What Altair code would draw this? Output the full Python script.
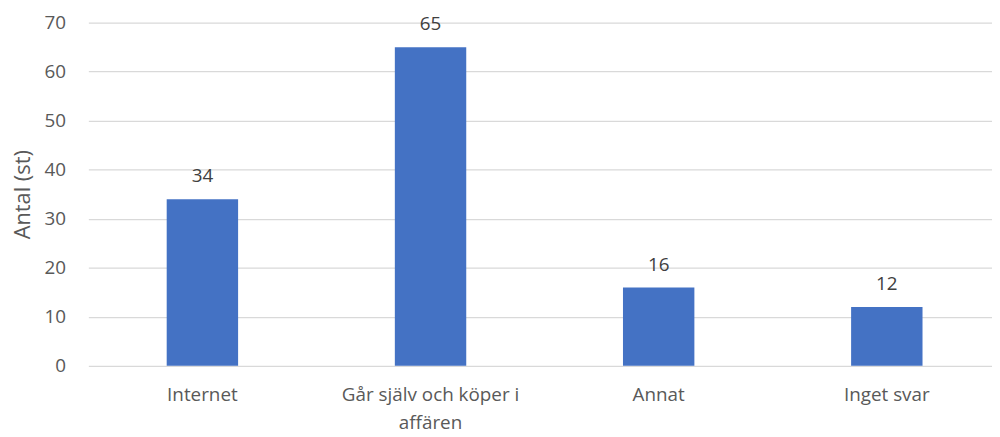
import altair as alt
import pandas as pd

categories = ["Internet", "Går själv och köper i affären", "Annat", "Inget svar"]
values = [34, 65, 16, 12]
y_ticks = [0, 10, 20, 30, 40, 50, 60, 70]

df = pd.DataFrame({"kategori": categories, "antal": values})

FONT = "Open Sans"
GREY = "#595959"

x_enc = alt.X(
    "kategori:N",
    sort=categories,
    title=None,
    scale=alt.Scale(paddingInner=0.687, paddingOuter=0.324, align=0.53, round=False),
    axis=alt.Axis(
        labelAngle=0,
        labelFont=FONT,
        labelFontSize=19,
        labelColor=GREY,
        labelPadding=20,
        labelLineHeight=28,
        labelExpr="datum.value == 'Går själv och köper i affären' ? ['Går själv och köper i', 'affären'] : datum.value",
        ticks=False,
        domain=False,
        grid=False,
    ),
)

y_enc = alt.Y(
    "antal:Q",
    title="Antal (st)",
    scale=alt.Scale(domain=[0, 70]),
    axis=alt.Axis(
        values=y_ticks,
        labelFont=FONT,
        labelFontSize=19,
        labelColor=GREY,
        labelPadding=23,
        ticks=False,
        domain=False,
        grid=True,
        gridColor="#d9d9d9",
        gridWidth=1.3,
        titleFont=FONT,
        titleFontSize=22,
        titleFontWeight="normal",
        titleColor=GREY,
        titlePadding=10,
    ),
)

base = alt.Chart(df).encode(x=x_enc, y=y_enc)

bars = base.mark_bar(color="#4472C4")
labels = base.mark_text(
    dy=-17, baseline="alphabetic", font=FONT, fontSize=19, color="#404040"
).encode(text="antal:Q")

chart = (
    (bars + labels)
    .properties(
        width=911,
        height=346,
        autosize=alt.AutoSizeParams(type="none"),
        padding={"left": 81, "top": 13, "right": 0, "bottom": 70},
    )
    .configure_view(stroke=None)
)

chart.save("out.html", embed_options={"renderer": "svg", "actions": False})
